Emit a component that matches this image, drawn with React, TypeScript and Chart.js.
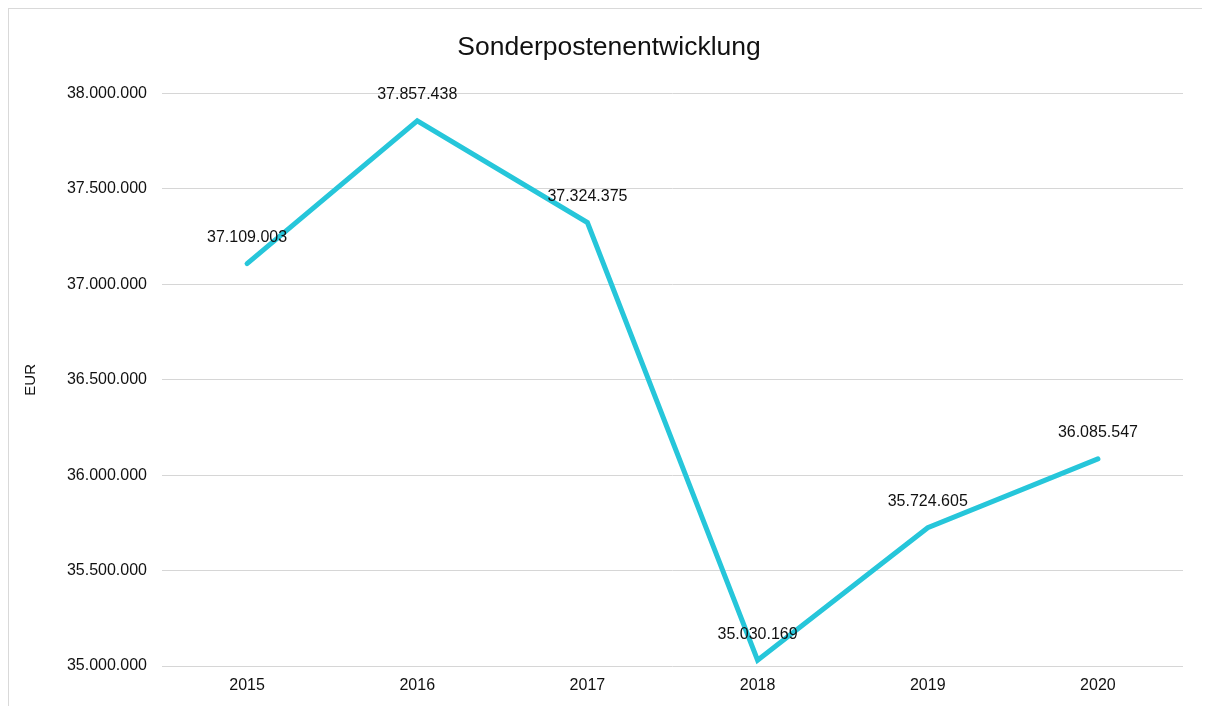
import React, { useEffect, useRef } from "react";
import { Chart, registerables } from "chart.js";

Chart.register(...registerables);

const categories = ["2015", "2016", "2017", "2018", "2019", "2020"];
const values = [37109003, 37857438, 37324375, 35030169, 35724605, 36085547];
const yMin = 35000000;
const yMax = 38000000;
const yStep = 500000;
const titleText = "Sonderpostenentwicklung";
const yTitle = "EUR";

const FONT = '"Liberation Sans", Arial, Helvetica, sans-serif';

function fmt(v: number): string {
  return Math.round(v)
    .toString()
    .replace(/\B(?=(\d{3})+(?!\d))/g, ".");
}

const dataLabels = {
  id: "dataLabels",
  afterDatasetsDraw(chart: any) {
    const ctx = chart.ctx;
    const meta = chart.getDatasetMeta(0);
    ctx.save();
    ctx.font = `16px ${FONT}`;
    ctx.fillStyle = "#111";
    ctx.textAlign = "center";
    ctx.textBaseline = "middle";
    meta.data.forEach((pt: any, i: number) => {
      ctx.fillText(fmt(values[i]), pt.x, pt.y - 26);
    });
    ctx.restore();
  },
};

export default function App() {
  const ref = useRef<HTMLCanvasElement | null>(null);
  useEffect(() => {
    if (!ref.current) return;
    const chart = new Chart(ref.current, {
      type: "line",
      data: {
        labels: categories,
        datasets: [
          {
            data: values,
            borderColor: "#26C6DA",
            borderWidth: 5,
            pointRadius: 0,
            borderCapStyle: "round",
            borderJoinStyle: "miter",
            tension: 0,
            fill: false,
          },
        ],
      },
      options: {
        animation: false,
        responsive: false,
        maintainAspectRatio: false,
        layout: { padding: { left: 0, right: 0, top: 0, bottom: 0 } },
        plugins: {
          legend: { display: false },
          tooltip: { enabled: false },
          title: {
            display: true,
            text: titleText,
            color: "#111",
            font: { family: FONT, size: 26.5, weight: "normal" },
            padding: { top: 22.4, bottom: 30.4 },
          },
        },
        scales: {
          x: {
            offset: true,
            grid: { display: false, drawTicks: false },
            border: { display: false },
            ticks: {
              color: "#111",
              font: { family: FONT, size: 16 },
              padding: 10,
              maxRotation: 0,
            },
            afterFit(scale: any) {
              scale.height = 40;
            },
          },
          y: {
            min: yMin,
            max: yMax,
            grid: { color: "#d6d6d6", lineWidth: 1, drawTicks: false },
            border: { display: false },
            ticks: {
              stepSize: yStep,
              color: "#111",
              font: { family: FONT, size: 16 },
              padding: 15,
              callback: (v: any) => fmt(Number(v)),
            },
            title: {
              display: true,
              text: yTitle,
              color: "#111",
              font: { family: FONT, size: 15 },
              padding: { top: 13, bottom: 0 },
            },
            afterFit(scale: any) {
              scale.width = 153;
            },
          },
          yRight: {
            position: "right",
            display: true,
            min: yMin,
            max: yMax,
            grid: { display: false, drawTicks: false },
            border: { display: false },
            ticks: { display: false },
            afterFit(scale: any) {
              scale.width = 26;
            },
          },
        },
      },
      plugins: [dataLabels],
    } as any);
    return () => chart.destroy();
  }, []);

  return (
    <div
      style={{
        width: 1202,
        height: 698,
        boxSizing: "border-box",
        border: "1px solid #d9d9d9",
        borderBottom: "none",
        position: "relative",
        overflow: "hidden",
        background: "#fff",
      }}
    >
      <canvas
        ref={ref}
        width={1200}
        height={697}
        style={{ display: "block", width: 1200, height: 697 }}
      />
    </div>
  );
}
